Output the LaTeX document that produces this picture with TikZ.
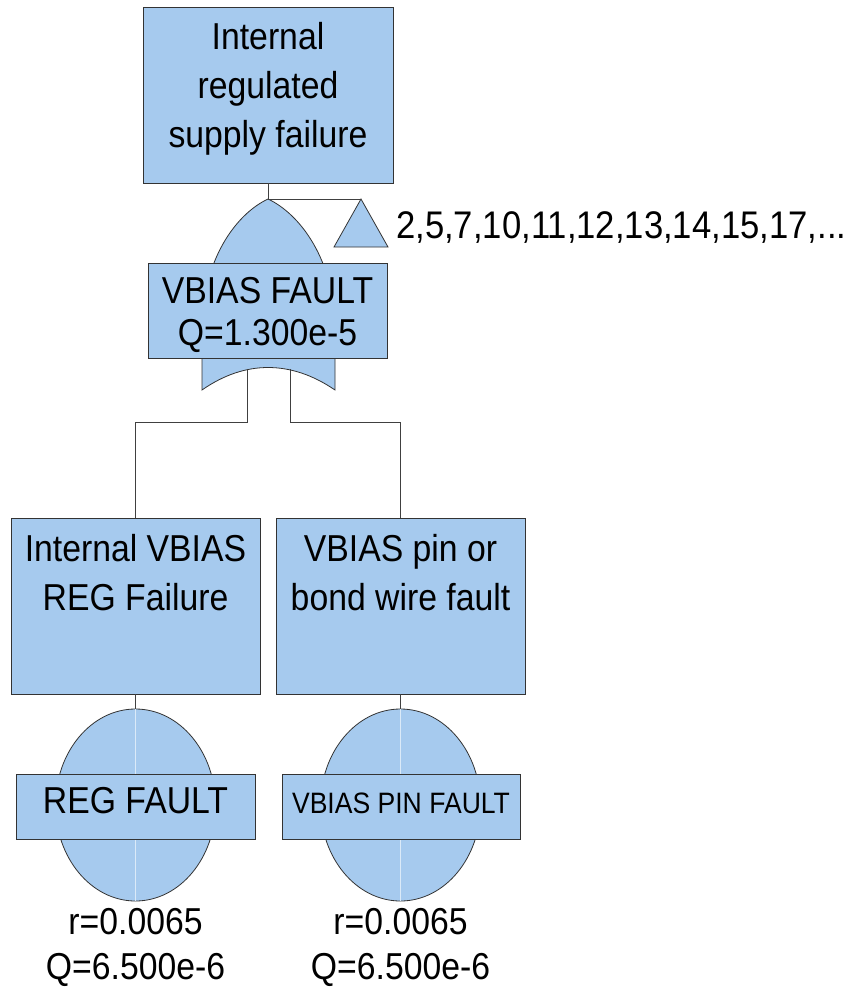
\documentclass[tikz,border=0pt]{standalone}
\usepackage{fontspec}
\setmainfont{Liberation Sans}[FakeStretch=0.9]
\usetikzlibrary{shapes,positioning}
\definecolor{faultblue}{RGB}{166,202,238}

\begin{document}
\begin{tikzpicture}[x=1pt, y=-1pt,
  box/.style={draw=black!80, fill=faultblue, line width=0.8pt, inner sep=0pt},
  event/.style={box, ellipse, minimum width=160pt, minimum height=192pt},
  seam/.style={draw=faultblue!40!white, line width=0.6pt},
  wire/.style={draw=black!75, line width=0.8pt},
  txt/.style={inner sep=0pt, align=center, font=\fontsize{37.5}{49}\selectfont}]
\useasboundingbox (0,0) rectangle (852,991);

% top event
\node[box, minimum width=250pt, minimum height=176pt] (top) at (268,95) {};
\node[txt, below=16pt of top.north] (toptxt) {Internal\\regulated\\supply failure};

% or gate
\coordinate (orapex) at (268,199);
\draw[box] (orapex) .. controls (236,214) and (202,260) .. (202,330) -- (202,390)
  .. controls (245,360) and (291,360) .. (335,390) -- (335,330)
  .. controls (335,260) and (300,214) .. (orapex) -- cycle;
\node[box, minimum width=239pt, minimum height=95pt] (vbias) at (267.5,310.5) {};
\node[txt, font=\fontsize{37.5}{42}\selectfont, below=15pt of vbias.north] (vbiastxt) {VBIAS FAULT\\Q=1.300e-5};

% transfer
\coordinate (xfer) at (361,199);
\draw[box] (xfer) -- (334,247) -- (388,247) -- cycle;
\node[txt, font=\fontsize{38.5}{49}\selectfont, anchor=base west] (xfertxt) at (396,238) {2,5,7,10,11,12,13,14,15,17,...};
\draw[wire] (top.south) -- (orapex) -- (xfer);

% inputs
\node[box, minimum width=249pt, minimum height=176pt] (reg) at (135.5,606) {};
\node[txt, below=17pt of reg.north] (regtxt) {Internal VBIAS\\REG Failure};
\node[box, minimum width=249pt, minimum height=176pt] (pin) at (400.5,606) {};
\node[txt, below=17pt of pin.north] (pintxt) {VBIAS pin or\\bond wire fault};

\coordinate (orin1) at (247,369);
\coordinate (orin2) at (290,369);
\draw[wire] (orin1) -- ++(0,53) -| (reg.north);
\draw[wire] (orin2) -- ++(0,53) -| (pin.north);

% basic events
\node[event] (regev) at (135.5,805) {};
\draw[seam] (regev.north) -- (regev.south);
\node[box, minimum width=239pt, minimum height=65pt] (regflt) at (135.5,806.5) {};
\node[txt, below=14pt of regflt.north] (regflttxt) {REG FAULT};
\node[txt, font=\fontsize{37.5}{45}\selectfont, below=7pt of regev.south] (regq) {r=0.0065\\Q=6.500e-6};
\draw[wire] (reg.south) -- (regev.north);

\node[event] (pinev) at (400.5,805) {};
\draw[seam] (pinev.north) -- (pinev.south);
\node[box, minimum width=238pt, minimum height=65pt] (pinflt) at (401,806.5) {};
\node[txt, font=\fontsize{29.5}{35}\selectfont, below=19pt of pinflt.north] (pinflttxt) {VBIAS PIN FAULT};
\node[txt, font=\fontsize{37.5}{45}\selectfont, below=7pt of pinev.south] (pinq) {r=0.0065\\Q=6.500e-6};
\draw[wire] (pin.south) -- (pinev.north);
\end{tikzpicture}
\end{document}
